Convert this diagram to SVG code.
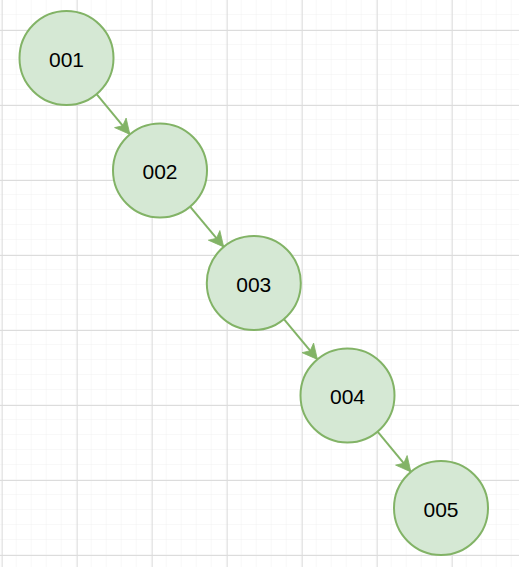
<svg xmlns="http://www.w3.org/2000/svg" width="519" height="567" viewBox="0 0 519 567">
<defs>
<pattern id="minor" x="1.7" y="0" width="15" height="15" patternUnits="userSpaceOnUse">
<path d="M15 0 V15 M0 15 H15" fill="none" stroke="#f0f0f0" stroke-width="1"/>
</pattern>
<pattern id="major" x="1.7" y="30" width="75" height="75" patternUnits="userSpaceOnUse">
<path d="M0.5 0 V75 M0 0.5 H75" fill="none" stroke="#dcdcdc" stroke-width="1"/>
</pattern>
<marker id="arr" viewBox="0 0 10 10" refX="10" refY="5" markerWidth="16" markerHeight="15" markerUnits="userSpaceOnUse" orient="auto" overflow="visible">
<path d="M0,0 L10,5 L0,10 L2.5,5 Z" fill="#82b366" stroke="#82b366" stroke-width="0.5"/>
</marker>
<style>
.node circle{fill:#d5e8d4;stroke:#82b366;stroke-width:2}
.node text{font-family:"Liberation Sans",Arial,sans-serif;font-size:21px;fill:#000;text-anchor:middle;dominant-baseline:central}
.edge{stroke:#82b366;stroke-width:2;fill:none}
</style>
</defs>
<rect width="519" height="567" fill="#ffffff"/>
<rect width="519" height="567" fill="url(#minor)"/>
<rect width="519" height="567" fill="url(#major)"/>
<g id="connectors">
<path class="edge" d="M96.6 94.1 L129.9 134.4" marker-end="url(#arr)"/>
<path class="edge" d="M190.1 206.6 L223.7 246.9" marker-end="url(#arr)"/>
<path class="edge" d="M283.9 319.1 L317.4 359.4" marker-end="url(#arr)"/>
<path class="edge" d="M377.6 431.6 L410.9 471.9" marker-end="url(#arr)"/>
</g>
<g id="n001" class="node"><circle cx="66.5" cy="58" r="47"/><text x="66.5" y="59">001</text></g>
<g id="n002" class="node"><circle cx="160" cy="170.5" r="47"/><text x="160" y="171.5">002</text></g>
<g id="n003" class="node"><circle cx="253.8" cy="283" r="47"/><text x="253.8" y="284">003</text></g>
<g id="n004" class="node"><circle cx="347.5" cy="395.5" r="47"/><text x="347.5" y="396.5">004</text></g>
<g id="n005" class="node"><circle cx="441" cy="508" r="47"/><text x="441" y="509">005</text></g>
</svg>
